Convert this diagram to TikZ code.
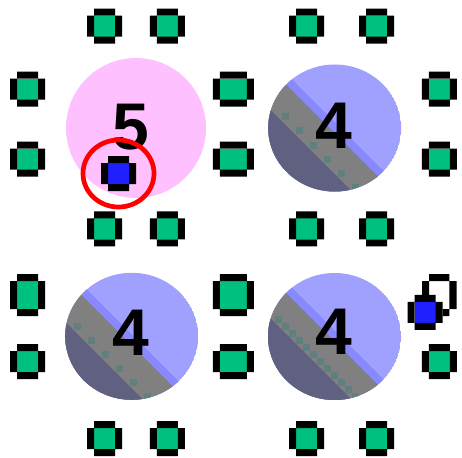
\documentclass[tikz,border=0pt]{standalone}
\usepackage{fontspec}
\setsansfont{Liberation Sans}
\usetikzlibrary{calc}
\definecolor{tilegreen}{HTML}{00C080}
\definecolor{playerblue}{HTML}{2020FF}
\definecolor{pinkdisc}{HTML}{FFC0FF}
\definecolor{lavender}{HTML}{A0A0FF}
\definecolor{stripblue}{HTML}{8888FF}
\definecolor{bandgray}{HTML}{808080}
\definecolor{slate}{HTML}{606080}
\definecolor{tealdot}{HTML}{608080}
\tikzset{
  tile/.style={rectangle, fill=tilegreen, minimum width=21pt, minimum height=21pt, inner sep=0pt, outer sep=0pt},
  widetile/.style={tile, minimum width=27pt},
  talltile/.style={tile, minimum height=28pt},
  bigtile/.style={tile, minimum width=27pt, minimum height=28pt},
  player/.style={tile, fill=playerblue},
  count/.style={inner sep=0pt, font=\sffamily\bfseries\fontsize{66}{66}\selectfont},
  ring/.style={draw=red, line width=4.7pt}
}

\begin{document}
\begin{tikzpicture}[x=1pt, y=-1pt]
  \useasboundingbox (0,0) rectangle (462,457);
  % pink token
  \fill[pinkdisc] (136,128) circle [radius=70];
  % blue tokens, cut in three diagonal bands
  \foreach \px/\py/\sa/\ga/\da/\ox/\oy/\st/\nd in {334.7/128/-6/5/46/-49.7/-11/14/5,
      131.7/336.3/-2/9/52/-54.7/-9.6/14/5, 334.5/336.5/-6/5/46/-55.8/-17.2/7/11} {
    \begin{scope}
      \clip (\px,\py) ellipse [x radius=66.5, y radius=63.5];
      \fill[lavender] (\px,\py) ellipse [x radius=66.5, y radius=63.5];
      \fill[stripblue] ({\px-100},{\py-100+\sa}) -- ({\px+100},{\py+100+\sa}) -- ({\px-100},{\py+100+\sa}) -- cycle;
      \fill[bandgray] ({\px-100},{\py-100+\ga}) -- ({\px+100},{\py+100+\ga}) -- ({\px-100},{\py+100+\ga}) -- cycle;
      \fill[slate] ({\px-100},{\py-100+\da}) -- ({\px+100},{\py+100+\da}) -- ({\px-100},{\py+100+\da}) -- cycle;
      \foreach \k in {0,...,\nd}
        \fill[tealdot] ({\px+\ox+\k*\st-3.5},{\py+\oy+\k*\st-3.5}) rectangle ++(7,7);
    \end{scope}
  }
  % green tiles
  \foreach \nm/\x/\y/\sty in {a1/104.5/26.2/tile, a2/167.3/26.2/tile, a3/306.5/26.2/tile, a4/376.5/26.2/tile,
      b1/27.5/89.2/tile, b2/233.3/89.2/widetile, b3/439.3/89.2/tile,
      c1/27.5/159.2/tile, c2/233.3/159.2/widetile, c3/439.3/159.2/tile,
      d1/104.5/228.8/tile, d2/167.3/228.8/tile, d3/306.5/228.8/tile, d4/376.5/228.8/tile,
      e1/27.5/295/talltile, e2/233.3/295/bigtile,
      f1/27.5/361.5/tile, f2/233.3/361.5/widetile, f3/439.3/361.5/tile,
      g1/104.5/438.5/tile, g2/167.3/438.5/tile, g3/306.5/438.5/tile, g4/376.5/438.5/tile,
      pl1/118.5/173.5/player, pl2/425.2/312.3/player} {
    \node[\sty] (\nm) at (\x,\y) {};
    \fill[black] (\nm.north west) rectangle ([yshift=7pt]\nm.north east)
      (\nm.south west) rectangle ([yshift=-7pt]\nm.south east)
      ([xshift=-7pt]\nm.north west) rectangle (\nm.south west)
      (\nm.north east) rectangle ([xshift=7pt]\nm.south east);
  }
  % loop on the second player
  \fill[black] (429,274) rectangle (449.3,281) (422,281) rectangle (429,295)
    (449.3,281) rectangle (456.7,309) (442.7,309) rectangle (449.3,316);
  % counts
  \node[count] (five) at (131,127) {5};
  \node[count] (fourA) at (334,126) {4};
  \node[count] (fourB) at (131,332.5) {4};
  \node[count] (fourC) at (334,331.5) {4};
  \draw[ring] (pl1.center) ellipse [x radius=35.5, y radius=33.5];
\end{tikzpicture}
\end{document}
